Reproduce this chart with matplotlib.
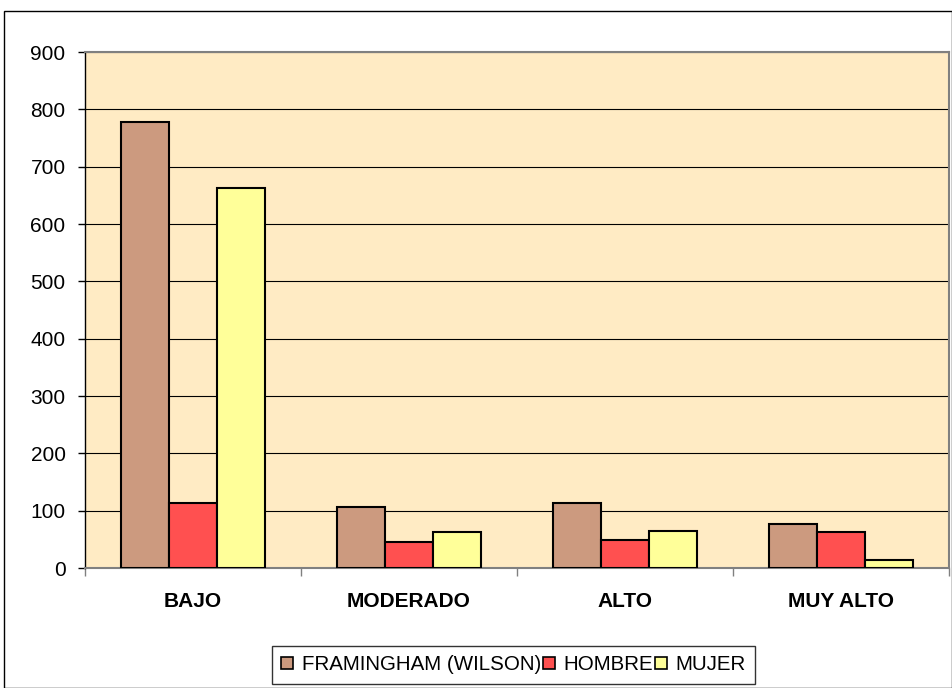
import matplotlib
matplotlib.use("Agg")
import matplotlib.pyplot as plt
import numpy as np
from matplotlib.patches import Rectangle

plt.rcParams['font.family'] = ['Liberation Sans', 'DejaVu Sans']

categories = ["BAJO", "MODERADO", "ALTO", "MUY ALTO"]
series_names = ["FRAMINGHAM (WILSON)", "HOMBRE", "MUJER"]
framingham = [778, 107, 114, 76]
hombre = [114, 45, 48, 62]
mujer = [663, 62, 65, 14]
colors = ["#CC9A7F", "#FF5050", "#FFFF99"]
yticks = [0, 100, 200, 300, 400, 500, 600, 700, 800, 900]

W, H = 953, 688
fig = plt.figure(figsize=(W / 100, H / 100), dpi=100)
fig.patch.set_facecolor("white")
fig.patches.append(Rectangle((4 / W, 0.5 / H), (W - 5) / W, (H - 11.5) / H,
                             transform=fig.transFigure, fill=False,
                             edgecolor="black", linewidth=1.0))

ax = fig.add_axes([85 / W, (H - 568) / H, (949 - 85) / W, (568 - 52) / H])
ax.set_facecolor("#FFEBC4")

x = np.arange(len(categories))
bw = 1 / 4.5
for i, (vals, name) in enumerate(zip([framingham, hombre, mujer], series_names)):
    ax.bar(x + (i - 1) * bw, vals, width=bw, color=colors[i], edgecolor="black",
           linewidth=1.5, label=name, zorder=3)

ax.set_xlim(-0.5, len(categories) - 0.5)
ax.set_ylim(0, 900)
ax.set_yticks(yticks)
ax.set_yticklabels([str(t) for t in yticks], fontsize=15)
ax.yaxis.grid(True, color="black", linewidth=0.8, zorder=0)
ax.set_axisbelow(True)

ax.set_xticks(x)
ax.set_xticklabels(categories, fontsize=15, fontweight="bold")
ax.tick_params(axis="x", length=0, pad=17)
ax.set_xticks(np.arange(len(categories) + 1) - 0.5, minor=True)
ax.tick_params(axis="x", which="minor", length=6, color="#808080", width=1)
ax.tick_params(axis="y", length=5, color="black", width=1, pad=9)

for s in ["top", "right", "bottom"]:
    ax.spines[s].set_color("#808080")
    ax.spines[s].set_linewidth(1.5)
ax.spines["left"].set_color("black")
ax.spines["left"].set_linewidth(1.0)

leg = fig.legend(loc="center", bbox_to_anchor=((268 + 759) / 2 / W, 1 - 665 / H),
                 ncol=3, fontsize=14.8, frameon=True, fancybox=False,
                 edgecolor="black", handlelength=0.6, handleheight=0.55,
                 handletextpad=0.4, columnspacing=0.1, borderpad=0.45,
                 borderaxespad=0)
leg.get_frame().set_linewidth(1.0)
for h in leg.legend_handles:
    h.set_linewidth(1.2)

fig.savefig("out.png", dpi=100, facecolor="white")
